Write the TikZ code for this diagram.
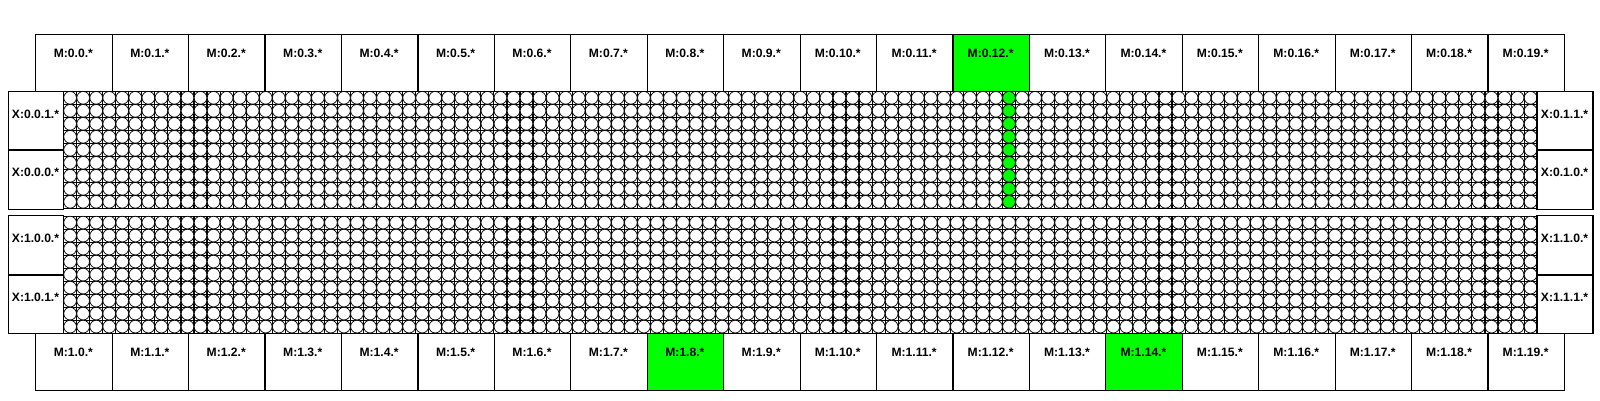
\documentclass[tikz,border=0pt]{standalone}
\usepackage{fontspec}
\setmainfont{Liberation Sans}
\tikzset{
  x=0.02cm,y=-0.02cm,
  labeltext/.style={font=\fontsize{6.9pt}{8pt}\selectfont\bfseries,inner sep=0pt},
  cellbox/.style={draw=black,line width=0.024cm,outer sep=0pt,inner sep=0pt,anchor=north west},
  mbox/.style={cellbox,minimum width=1.529cm,minimum height=1.14cm},
  xboxl/.style={cellbox,minimum width=1.1cm,minimum height=1.172cm},
  xboxr/.style={cellbox,minimum width=1.12cm,minimum height=1.172cm},
  hot/.style={fill=green},
  gridline/.style={draw=black,line width=0.022cm},
  cellcircle/.style={draw=black,line width=0.014cm,fill=white},
  hotcircle/.style={draw=black,line width=0.014cm,fill=green},
}
\begin{document}
\begin{tikzpicture}
\path[use as bounding box] (0,0) rectangle (1600,400);
\fill[white] (0,0) rectangle (1600,400);
% cell grids
\foreach \by in {91.3,216.1}{
  \begin{scope}[shift={(63.6,\by)}]
  \foreach \i in {0,...,113}{\draw[gridline] ({\i*13.04},0) -- ({\i*13.04},117);}
  \foreach \j in {0,...,9}{\draw[gridline] (0,{\j*13}) -- (1473.5,{\j*13});}
  \foreach \i in {0,...,112}{\foreach \j in {0,...,8}{
    \path[cellcircle] ({(\i+.5)*13.04},{(\j+.5)*13}) circle[radius=6.35];
  }}
  \end{scope}
}
\foreach \j in {0,...,8}{\path[hotcircle] ({63.6+72.5*13.04},{91.3+(\j+.5)*13}) circle[radius=6.35];}
% memory boxes
\foreach \i in {0,...,19}{
  \pgfmathsetmacro\xx{35.8+\i*76.43}
  \ifnum\i=12 \def\hh{hot}\else\def\hh{}\fi
  \node[mbox,\hh] (mt\i) at (\xx,34.3) {};
  \node[labeltext] (mtl\i) at ({\xx+37.6},53.2) {M:0.\i.*};
  \ifnum\i=8 \def\hh{hot}\else\ifnum\i=14 \def\hh{hot}\else\def\hh{}\fi\fi
  \node[mbox,\hh] (mb\i) at (\xx,333.3) {};
  \node[labeltext] (mbl\i) at ({\xx+37.6},352.2) {M:1.\i.*};
}
% side boxes
\node[xboxl] (x001) at (8.3,91.3) {};
\node[xboxl] (x000) at (8.3,150.6) {};
\node[xboxl] (x100) at (8.3,215.8) {};
\node[xboxl] (x101) at (8.3,274.9) {};
\node[xboxr] (x011) at (1536.9,91.3) {};
\node[xboxr] (x010) at (1536.9,150.6) {};
\node[xboxr] (x110) at (1536.9,215.8) {};
\node[xboxr] (x111) at (1536.9,274.9) {};
\node[labeltext] (l001) at (35.5,114) {X:0.0.1.*};
\node[labeltext] (l000) at (35.5,172.5) {X:0.0.0.*};
\node[labeltext] (l100) at (35.5,238.7) {X:1.0.0.*};
\node[labeltext] (l101) at (35.5,297.7) {X:1.0.1.*};
\node[labeltext] (l011) at (1564.5,114) {X:0.1.1.*};
\node[labeltext] (l010) at (1564.5,172.5) {X:0.1.0.*};
\node[labeltext] (l110) at (1564.5,238.7) {X:1.1.0.*};
\node[labeltext] (l111) at (1564.5,297.7) {X:1.1.1.*};
\end{tikzpicture}
\end{document}
